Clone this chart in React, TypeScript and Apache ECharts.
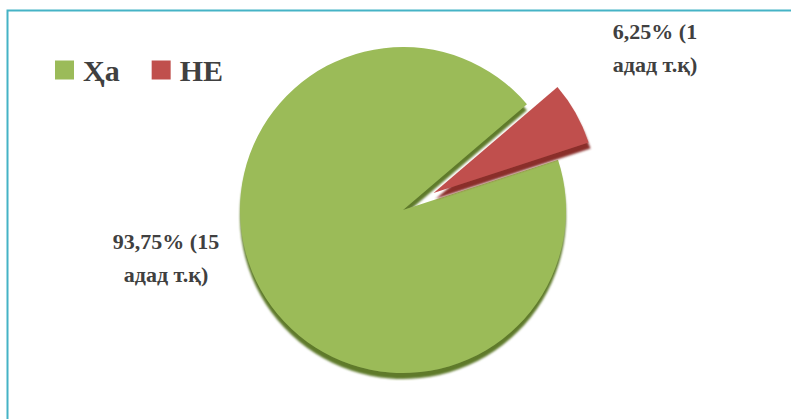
import React, { useEffect, useRef } from "react";
import * as echarts from "echarts";

const categories = ["Ҳа", "НЕ"];
const counts = [15, 1];
const colors = ["#9BBB59", "#C0504D"];
const sideColors = ["#5E7A2C", "#8A2E2C"];
const unitText = "адад т.қ)";

export default function App() {
  const ref = useRef<HTMLDivElement>(null);
  useEffect(() => {
    if (!ref.current) return;
    const chart = echarts.init(ref.current, null, { renderer: "svg" });

    const center = [403, 210];
    const radius = 163;
    const startAngle = 18;
    const explodeIndex = 1;
    const explodeOffset = 35;
    const total = counts.reduce((a, b) => a + b, 0);
    let before = 0;
    for (let i = 0; i < explodeIndex; i++) before += counts[i];
    const midDeg = startAngle - (360 * (before + counts[explodeIndex] / 2)) / total;
    const midRad = (midDeg * Math.PI) / 180;
    const explodedCenter = [
      center[0] + Math.cos(midRad) * explodeOffset,
      center[1] - Math.sin(midRad) * explodeOffset,
    ];

    const labelPos = [
      { x: 166, y: 258 },
      { x: 655, y: 48 },
    ];

    const labelBase = {
      show: true,
      position: "outside",
      fontFamily: "Liberation Serif",
      fontWeight: "bold",
      fontSize: 22,
      lineHeight: 33,
      color: "#404040",
      align: "center",
      formatter: (p: any) =>
        ((p.value / total) * 100).toFixed(2).replace(".", ",") +
        "% (" +
        p.value +
        "\n" +
        unitText,
    };

    const makeSeries = (isExploded: boolean) => ({
      type: "pie",
      center: isExploded ? explodedCenter : center,
      radius,
      startAngle,
      clockwise: true,
      emphasis: { disabled: true },
      labelLine: { show: false },
      label: labelBase,
      labelLayout: (params: any) => {
        const pos = labelPos[params.dataIndex];
        return { x: pos.x, y: pos.y, align: "center", verticalAlign: "middle" };
      },
      data: categories.map((name, i) => {
        const visible = (i === explodeIndex) === isExploded;
        return {
          name,
          value: counts[i],
          label: { show: visible },
          itemStyle: visible
            ? {
                color: colors[i],
                shadowColor: sideColors[i],
                shadowOffsetY: 6,
                shadowOffsetX: i === explodeIndex ? 2 : 0,
                shadowBlur: 2,
              }
            : { color: "rgba(0,0,0,0)" },
        };
      }),
    });

    chart.setOption({
      animation: false,
      backgroundColor: "#ffffff",
      graphic: [
        {
          type: "rect",
          shape: { x: 7.5, y: 10.5, width: 1000, height: 800 },
          style: { fill: "none", stroke: "#45B3C6", lineWidth: 2 },
          silent: true,
        },
      ],
      legend: {
        left: 50,
        top: 50,
        orient: "horizontal",
        icon: "rect",
        itemWidth: 19,
        itemHeight: 19,
        itemGap: 32,
        selectedMode: false,
        data: categories.map((name, i) => ({ name, itemStyle: { color: colors[i] } })),
        textStyle: {
          fontFamily: "Liberation Serif",
          fontWeight: "bold",
          fontSize: 30,
          color: "#404040",
          padding: [0, 0, 0, 4],
        },
      },
      series: [makeSeries(false), makeSeries(true)],
    });
    return () => chart.dispose();
  }, []);
  return (
    <div
      ref={ref}
      style={{ position: "fixed", left: 0, top: 0, width: 791, height: 419 }}
    />
  );
}
